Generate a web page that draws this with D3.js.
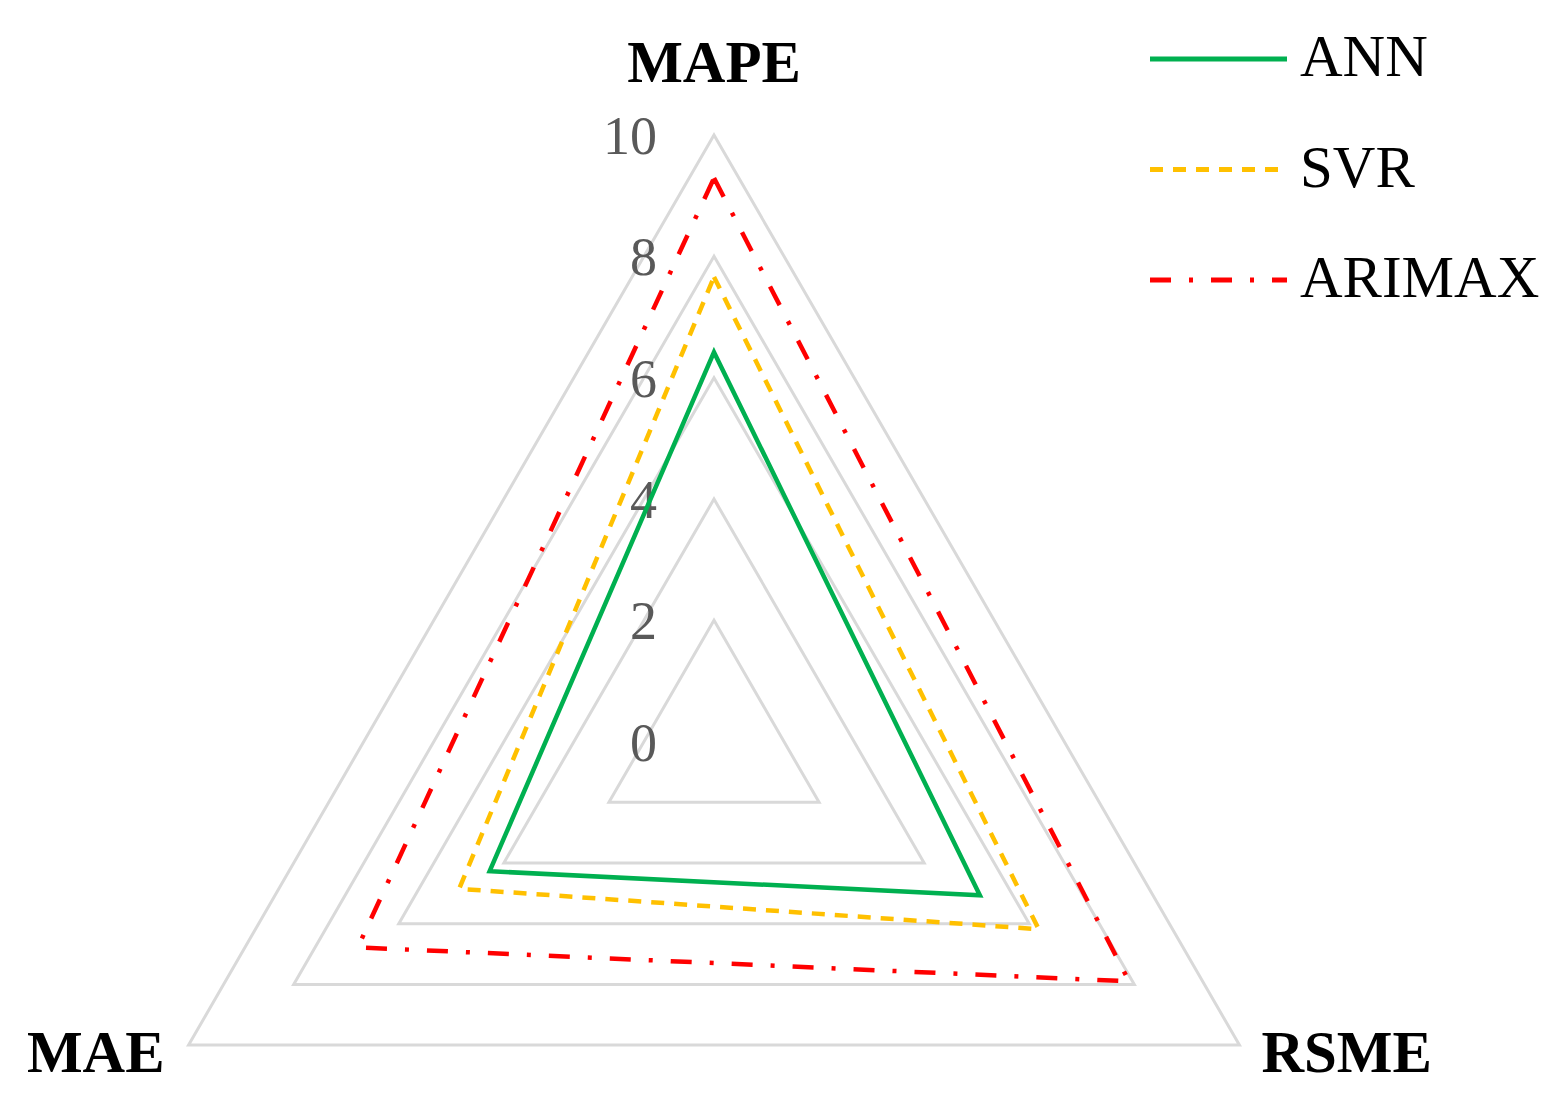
<!DOCTYPE html>
<html>
<head>
<meta charset="utf-8">
<script src="https://cdn.jsdelivr.net/npm/d3@7"></script>
<style>
html,body{margin:0;padding:0;background:#fff;}
svg{display:block;}
</style>
</head>
<body>
<svg id="chart" width="1556" height="1111"></svg>
<script>
const axes = ["MAPE", "RSME", "MAE"];
const seriesNames = ["ANN", "SVR", "ARIMAX"];
const annValues = [6.42, 5.06, 4.27];
const svrValues = [7.66, 6.18, 4.85];
const arimaxValues = [9.29, 7.9, 6.78];
const tickValues = [0, 2, 4, 6, 8, 10];
const gridValues = [2, 4, 6, 8, 10];
const colors = ["#00B050", "#FFC000", "#FF0000"];
const dashes = [null, "13,10", "21,18,4,18"];

(function () {
const svg = d3.select("#chart");
const cx = 714, cy = 741.7;
const r = d3.scaleLinear().domain([0, 10]).range([0, 606.7]);
const angle = d3.scaleOrdinal().domain(axes).range([-90, 30, 150].map(a => a * Math.PI / 180));
const pt = (ax, v) => [cx + r(v) * Math.cos(angle(ax)), cy + r(v) * Math.sin(angle(ax))];
const line = d3.line();

// grid
svg.append("g").selectAll("path").data(gridValues).join("path")
  .attr("d", v => line(axes.map(a => pt(a, v))) + "Z")
  .attr("fill", "none").attr("stroke", "#D9D9D9").attr("stroke-width", 3);

// tick labels
svg.append("g").selectAll("text").data(tickValues).join("text")
  .attr("x", cx - 57).attr("y", v => cy - r(v))
  .attr("dy", "0.35em").attr("text-anchor", "end")
  .attr("font-family", "'Liberation Serif', serif").attr("font-size", 54)
  .attr("fill", "#595959").text(v => v);

// series
const series = [annValues, svrValues, arimaxValues];
svg.append("g").selectAll("path").data(series).join("path")
  .attr("d", vals => line(axes.map((a, i) => pt(a, vals[i]))) + "Z")
  .attr("fill", "none")
  .attr("stroke", (d, i) => colors[i])
  .attr("stroke-width", 4.5)
  .attr("stroke-dasharray", (d, i) => dashes[i])
  .attr("stroke-linejoin", "miter");

// axis labels
const pTop = pt("MAPE", 10), pRight = pt("RSME", 10), pLeft = pt("MAE", 10);
const lab = svg.append("g").attr("font-family", "'Liberation Serif', serif")
  .attr("font-weight", "bold").attr("font-size", 59).attr("fill", "#000");
lab.append("text").attr("x", pTop[0]).attr("y", pTop[1] - 53).attr("text-anchor", "middle").text(axes[0]);
lab.append("text").attr("x", pRight[0] + 22).attr("y", pRight[1] + 27).attr("text-anchor", "start").text(axes[1]);
lab.append("text").attr("x", pLeft[0] - 24).attr("y", pLeft[1] + 27).attr("text-anchor", "end").text(axes[2]);

// legend
const ly = d3.scalePoint().domain(seriesNames).range([59, 280]);
const lg = svg.append("g").selectAll("g").data(seriesNames).join("g")
  .attr("transform", d => `translate(0,${ly(d)})`);
lg.append("line").attr("x1", 1150).attr("x2", 1287).attr("y1", 0).attr("y2", 0)
  .attr("stroke", (d, i) => colors[i]).attr("stroke-width", 5)
  .attr("stroke-dasharray", (d, i) => dashes[i]);
lg.append("text").attr("x", 1300).attr("y", 17)
  .attr("font-family", "'Liberation Serif', serif").attr("font-size", 59)
  .attr("fill", "#000").text(d => d);
})();
</script>
</body>
</html>
